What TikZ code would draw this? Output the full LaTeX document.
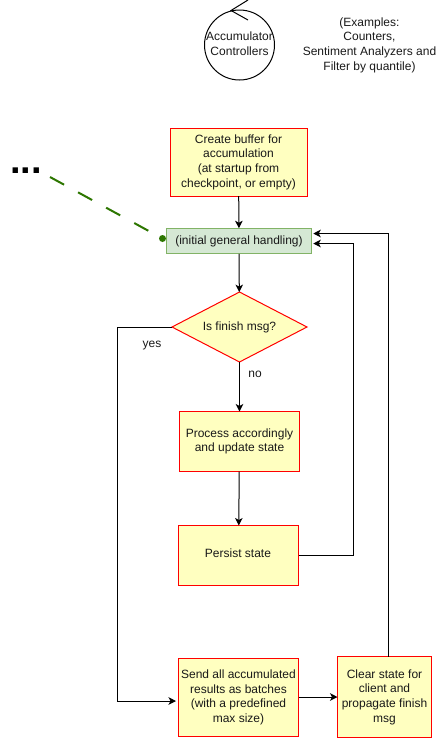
\documentclass[tikz,border=0pt]{standalone}
\usepackage{fontspec}
\setmainfont{Liberation Sans}
\usetikzlibrary{arrows.meta}
\usetikzlibrary{shapes.geometric}
\definecolor{yellowbox}{HTML}{FFFFC0}
\definecolor{greenbox}{HTML}{D5E8D4}
\definecolor{greenedge}{HTML}{82B366}
\definecolor{greendash}{HTML}{2D7600}
\tikzset{
  txt/.style={font=\fontsize{12}{14.7}\selectfont,align=center,text=black!90,inner sep=0pt,outer sep=0pt},
  stepbox/.style={txt,draw=red,fill=yellowbox,line width=1pt,rectangle},
  flow/.style={line width=1pt,-{Stealth[length=7.5pt,width=7.5pt,inset=2pt]}},
}
\begin{document}
\begin{tikzpicture}[x=1pt,y=-1pt]
  \useasboundingbox (0,0) rectangle (445,739);
  \node[draw=black,line width=1pt,circle,minimum size=70pt,inner sep=0pt,outer sep=0pt] (controllers) at (239.5,45) {};
  \node[txt] (controllerstext) at (239.5,44) {Accumulator\\Controllers};
  \coordinate (tipup) at (248,0);
  \coordinate (tipdown) at (248,20);
  \coordinate (tipmid) at (231,10.5);
  \draw[line width=1pt] (tipup) -- (tipmid) -- (tipdown);
  \node[txt] (examples) at (369.5,45) {(Examples:\\Counters,\\Sentiment Analyzers and\\Filter by quantile)};
  \node[inner sep=0pt,font=\fontsize{38}{38}\selectfont\bfseries,anchor=base west] (dots) at (10,173) {...};
  \node[stepbox,minimum width=137pt,minimum height=68pt] (create) at (238.5,162) {Create buffer for\\accumulation\\(at startup from\\checkpoint, or empty)};
  \node[stepbox,draw=greenedge,fill=greenbox,minimum width=145.5pt,minimum height=25.5pt] (initial) at (239,241) {(initial general handling)};
  \node[stepbox,diamond,aspect=1.93,minimum width=135pt,minimum height=70pt] (finish) at (239.5,327) {Is finish msg?};
  \node[stepbox,minimum width=120pt,minimum height=60pt] (process) at (239.5,441.5) {Process accordingly\\and update state};
  \node[stepbox,minimum width=120pt,minimum height=60pt] (persist) at (238.5,555.5) {};
  \node[txt] (persisttext) at (238,553.5) {Persist state};
  \node[stepbox,minimum width=120pt,minimum height=78pt] (send) at (238.5,697.5) {Send all accumulated\\results as batches\\(with a predefined\\max size)};
  \node[stepbox,minimum width=94pt,minimum height=81pt] (clear) at (384.5,697) {Clear state for\\client and\\propagate finish\\msg};
  \node[circle,fill=greendash,inner sep=0pt,minimum size=7pt] (start) at (162.5,238.5) {};
  \node[txt] (yes) at (152,346) {yes};
  \node[txt] (no) at (255,374.5) {no};
  \coordinate (dashstart) at (50,177);
  \draw[greendash,line width=2pt,dash pattern=on 16pt off 16pt] (dashstart) -- (start);
  \draw[flow] (create) -- (initial);
  \draw[flow] (initial) -- (finish);
  \draw[flow] (finish) -- (process);
  \draw[flow] (process) -- (persist);
  \draw[flow] (persist.east) -- (353.5,555.5) -- (353.5,243.5) -- ([xshift=1.5pt,yshift=-2.5pt]initial.east);
  \draw[flow] ([xshift=4pt]clear.north) -- (388.5,233.5) -- ([xshift=1.5pt,yshift=7.5pt]initial.east);
  \draw[flow] (finish.west) -- (117.5,327) -- (117.5,701) -- ([xshift=-2.5pt,yshift=-3.5pt]send.west);
  \draw[flow] (send.east |- 0,697) -- (clear.west |- 0,697);
\end{tikzpicture}
\end{document}
